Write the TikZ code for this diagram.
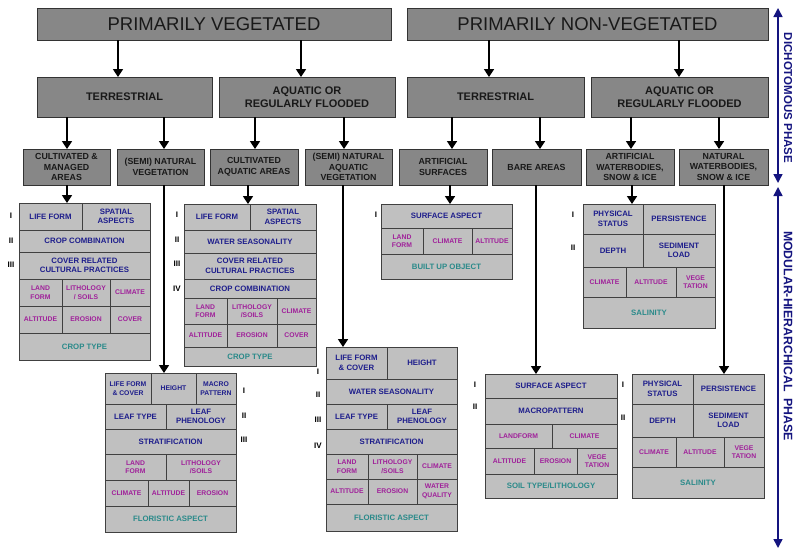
\documentclass[tikz,border=0pt]{standalone}
\usepackage{fontspec}
\setmainfont{Liberation Sans}
\usetikzlibrary{arrows.meta}
\definecolor{topgray}{HTML}{878787}
\definecolor{cellgray}{HTML}{C0C0C0}
\definecolor{tblue}{HTML}{1E1E8C}
\definecolor{tmag}{HTML}{A0209A}
\definecolor{tteal}{HTML}{2A8A8A}
\definecolor{navyc}{HTML}{14147F}
\newcommand\cell[7]{%
  \node[#6, minimum width={(#4-#2)*1pt}, minimum height={(#5-#3)*1pt}] (#1) at ({(#2+#4)/2},{(#3+#5)/2}) {#7};}
\tikzset{
  basebox/.style={draw=black!75, line width=0.6pt, inner sep=0.5pt, outer sep=0pt, align=center},
  topbox/.style={basebox, fill=topgray, draw=black!80, line width=0.9pt, text=black!90, font=\fontsize{18.5}{22}\selectfont},
  midbox/.style={basebox, fill=topgray, draw=black!80, line width=0.9pt, text=black!90, font=\fontsize{11}{13.5}\selectfont\bfseries},
  lowbox/.style={basebox, fill=topgray, draw=black!80, line width=0.9pt, text=black!90, font=\fontsize{8.8}{10.8}\selectfont\bfseries},
  cblue/.style={basebox, fill=cellgray, text=tblue, font=\fontsize{7.8}{9.5}\selectfont\bfseries},
  cblues/.style={basebox, fill=cellgray, text=tblue, font=\fontsize{6.8}{8.5}\selectfont\bfseries},
  cmag/.style={basebox, fill=cellgray, text=tmag, font=\fontsize{6.8}{8.5}\selectfont\bfseries},
  cteal/.style={basebox, fill=cellgray, text=tteal, font=\fontsize{7.8}{9.5}\selectfont\bfseries},
  numlab/.style={font=\fontsize{8}{9}\selectfont\bfseries, text=black, inner sep=0pt},
  arr/.style={line width=1.7pt, black, -{Triangle[length=8pt,width=10pt]}},
  phasearr/.style={line width=1.5pt, navyc, {Triangle[length=9pt,width=9pt]}-{Triangle[length=9pt,width=9pt]}},
  phasetxt/.style={rotate=-90, text=navyc, inner sep=0pt}
}
\begin{document}
\begin{tikzpicture}[x=1pt,y=-1pt]
\useasboundingbox[fill=white] (0,0) rectangle (800,557);
% top level
\cell{pv}{37}{8}{391}{40}{topbox}{PRIMARILY VEGETATED}
\cell{pnv}{407}{8}{768}{40}{topbox}{PRIMARILY NON-VEGETATED}
% second level
\cell{vt}{37}{77}{212}{117}{midbox}{TERRESTRIAL}
\cell{va}{219}{77}{395}{117}{midbox}{AQUATIC OR\\REGULARLY FLOODED}
\cell{nt}{407}{77}{584}{117}{midbox}{TERRESTRIAL}
\cell{na}{591}{77}{768}{117}{midbox}{AQUATIC OR\\REGULARLY FLOODED}
% third level
\cell{cmn}{23}{149}{110}{185}{lowbox}{CULTIVATED \&\\MANAGED\\AREAS}
\cell{snv}{117}{149}{204}{185}{lowbox}{(SEMI) NATURAL\\VEGETATION}
\cell{caa}{210}{149}{298}{185}{lowbox}{CULTIVATED\\AQUATIC AREAS}
\cell{sna}{305}{149}{392}{185}{lowbox}{(SEMI) NATURAL\\AQUATIC\\VEGETATION}
\cell{asf}{399}{149}{487}{185}{lowbox}{ARTIFICIAL\\SURFACES}
\cell{bar}{492}{149}{581}{185}{lowbox}{BARE AREAS}
\cell{awb}{586}{149}{674}{185}{lowbox}{ARTIFICIAL\\WATERBODIES,\\SNOW \& ICE}
\cell{nwb}{679}{149}{768}{185}{lowbox}{NATURAL\\WATERBODIES,\\SNOW \& ICE}
% box A
\cell{a1}{19}{203}{82}{230}{cblue}{LIFE FORM}
\cell{a2}{82}{203}{150}{230}{cblue}{SPATIAL\\ASPECTS}
\cell{a3}{19}{230}{150}{252}{cblue}{CROP COMBINATION}
\cell{a4}{19}{252}{150}{279}{cblue}{COVER RELATED\\CULTURAL PRACTICES}
\cell{a5}{19}{279}{62}{306}{cmag}{LAND\\FORM}
\cell{a6}{62}{279}{110}{306}{cmag}{LITHOLOGY\\/ SOILS}
\cell{a7}{110}{279}{150}{306}{cmag}{CLIMATE}
\cell{a8}{19}{306}{62}{333}{cmag}{ALTITUDE}
\cell{a9}{62}{306}{110}{333}{cmag}{EROSION}
\cell{a10}{110}{306}{150}{333}{cmag}{COVER}
\cell{a11}{19}{333}{150}{360}{cteal}{CROP TYPE}
\node[numlab] (an1) at (11,216) {I};
\node[numlab] (an2) at (11,241) {II};
\node[numlab] (an3) at (11,265) {III};
% box B
\cell{b1}{184}{204}{250}{230}{cblue}{LIFE FORM}
\cell{b2}{250}{204}{316}{230}{cblue}{SPATIAL\\ASPECTS}
\cell{b3}{184}{230}{316}{253}{cblue}{WATER SEASONALITY}
\cell{b4}{184}{253}{316}{279}{cblue}{COVER RELATED\\CULTURAL PRACTICES}
\cell{b5}{184}{279}{316}{298}{cblue}{CROP COMBINATION}
\cell{b6}{184}{298}{227}{324}{cmag}{LAND\\FORM}
\cell{b7}{227}{298}{277}{324}{cmag}{LITHOLOGY\\/SOILS}
\cell{b8}{277}{298}{316}{324}{cmag}{CLIMATE}
\cell{b9}{184}{324}{227}{347}{cmag}{ALTITUDE}
\cell{b10}{227}{324}{277}{347}{cmag}{EROSION}
\cell{b11}{277}{324}{316}{347}{cmag}{COVER}
\cell{b12}{184}{347}{316}{366}{cteal}{CROP TYPE}
\node[numlab] (bn1) at (177,215) {I};
\node[numlab] (bn2) at (177,240) {II};
\node[numlab] (bn3) at (177,264) {III};
\node[numlab] (bn4) at (177,289) {IV};
% box C
\cell{c1}{105}{373}{151}{404}{cblues}{LIFE FORM\\\& COVER}
\cell{c2}{151}{373}{196}{404}{cblues}{HEIGHT}
\cell{c3}{196}{373}{236}{404}{cblues}{MACRO\\PATTERN}
\cell{c4}{105}{404}{166}{429}{cblue}{LEAF TYPE}
\cell{c5}{166}{404}{236}{429}{cblue}{LEAF\\PHENOLOGY}
\cell{c6}{105}{429}{236}{454}{cblue}{STRATIFICATION}
\cell{c7}{105}{454}{166}{480}{cmag}{LAND\\FORM}
\cell{c8}{166}{454}{236}{480}{cmag}{LITHOLOGY\\/SOILS}
\cell{c9}{105}{480}{148}{506}{cmag}{CLIMATE}
\cell{c10}{148}{480}{189}{506}{cmag}{ALTITUDE}
\cell{c11}{189}{480}{236}{506}{cmag}{EROSION}
\cell{c12}{105}{506}{236}{532}{cteal}{FLORISTIC ASPECT}
\node[numlab] (cn1) at (244,391) {I};
\node[numlab] (cn2) at (244,416) {II};
\node[numlab] (cn3) at (244,440) {III};
% box D
\cell{d1}{326}{347}{387}{379}{cblue}{LIFE FORM\\\& COVER}
\cell{d2}{387}{347}{457}{379}{cblue}{HEIGHT}
\cell{d3}{326}{379}{457}{404}{cblue}{WATER SEASONALITY}
\cell{d4}{326}{404}{387}{429}{cblue}{LEAF TYPE}
\cell{d5}{387}{404}{457}{429}{cblue}{LEAF\\PHENOLOGY}
\cell{d6}{326}{429}{457}{454}{cblue}{STRATIFICATION}
\cell{d7}{326}{454}{368}{479}{cmag}{LAND\\FORM}
\cell{d8}{368}{454}{417}{479}{cmag}{LITHOLOGY\\/SOILS}
\cell{d9}{417}{454}{457}{479}{cmag}{CLIMATE}
\cell{d10}{326}{479}{368}{504}{cmag}{ALTITUDE}
\cell{d11}{368}{479}{417}{504}{cmag}{EROSION}
\cell{d12}{417}{479}{457}{504}{cmag}{WATER\\QUALITY}
\cell{d13}{326}{504}{457}{531}{cteal}{FLORISTIC ASPECT}
\node[numlab] (dn1) at (318,372) {I};
\node[numlab] (dn2) at (318,395) {II};
\node[numlab] (dn3) at (318,420) {III};
\node[numlab] (dn4) at (318,446) {IV};
% box E
\cell{e1}{381}{204}{512}{228}{cblue}{SURFACE ASPECT}
\cell{e2}{381}{228}{423}{254}{cmag}{LAND\\FORM}
\cell{e3}{423}{228}{472}{254}{cmag}{CLIMATE}
\cell{e4}{472}{228}{512}{254}{cmag}{ALTITUDE}
\cell{e5}{381}{254}{512}{279}{cteal}{BUILT UP OBJECT}
\node[numlab] (en1) at (376,215) {I};
% box F
\cell{f1}{583}{204}{643}{234}{cblue}{PHYSICAL\\STATUS}
\cell{f2}{643}{204}{715}{234}{cblue}{PERSISTENCE}
\cell{f3}{583}{234}{643}{267}{cblue}{DEPTH}
\cell{f4}{643}{234}{715}{267}{cblue}{SEDIMENT\\LOAD}
\cell{f5}{583}{267}{626}{297}{cmag}{CLIMATE}
\cell{f6}{626}{267}{676}{297}{cmag}{ALTITUDE}
\cell{f7}{676}{267}{715}{297}{cmag}{VEGE\\TATION}
\cell{f8}{583}{297}{715}{328}{cteal}{SALINITY}
\node[numlab] (fn1) at (573,215) {I};
\node[numlab] (fn2) at (573,248) {II};
% box G
\cell{g1}{485}{374}{617}{398}{cblue}{SURFACE ASPECT}
\cell{g2}{485}{398}{617}{424}{cblue}{MACROPATTERN}
\cell{g3}{485}{424}{552}{448}{cmag}{LANDFORM}
\cell{g4}{552}{424}{617}{448}{cmag}{CLIMATE}
\cell{g5}{485}{448}{534}{474}{cmag}{ALTITUDE}
\cell{g6}{534}{448}{577}{474}{cmag}{EROSION}
\cell{g7}{577}{448}{617}{474}{cmag}{VEGE\\TATION}
\cell{g8}{485}{474}{617}{498}{cteal}{SOIL TYPE/LITHOLOGY}
\node[numlab] (gn1) at (475,385) {I};
\node[numlab] (gn2) at (475,407) {II};
% box H
\cell{h1}{632}{374}{693}{404}{cblue}{PHYSICAL\\STATUS}
\cell{h2}{693}{374}{764}{404}{cblue}{PERSISTENCE}
\cell{h3}{632}{404}{693}{437}{cblue}{DEPTH}
\cell{h4}{693}{404}{764}{437}{cblue}{SEDIMENT\\LOAD}
\cell{h5}{632}{437}{676}{467}{cmag}{CLIMATE}
\cell{h6}{676}{437}{724}{467}{cmag}{ALTITUDE}
\cell{h7}{724}{437}{764}{467}{cmag}{VEGE\\TATION}
\cell{h8}{632}{467}{764}{498}{cteal}{SALINITY}
\node[numlab] (hn1) at (623,385) {I};
\node[numlab] (hn2) at (623,418) {II};
% arrow x positions
\coordinate (x1) at (118,0);
\coordinate (x2) at (301,0);
\coordinate (x3) at (489,0);
\coordinate (x4) at (679,0);
\coordinate (y1) at (67,0);
\coordinate (y2) at (164,0);
\coordinate (y3) at (255,0);
\coordinate (y4) at (344,0);
\coordinate (y5) at (452,0);
\coordinate (y6) at (540,0);
\coordinate (y7) at (631,0);
\coordinate (y8) at (719,0);
\coordinate (z1) at (67,0);
\coordinate (z2) at (164,0);
\coordinate (z3) at (248,0);
\coordinate (z4) at (343,0);
\coordinate (z5) at (450,0);
\coordinate (z6) at (536,0);
\coordinate (z7) at (632,0);
\coordinate (z8) at (724,0);
% level 1 -> 2
\draw[arr] (x1 |- pv.south) -- (x1 |- vt.north);
\draw[arr] (x2 |- pv.south) -- (x2 |- va.north);
\draw[arr] (x3 |- pnv.south) -- (x3 |- nt.north);
\draw[arr] (x4 |- pnv.south) -- (x4 |- na.north);
% level 2 -> 3
\draw[arr] (y1 |- vt.south) -- (y1 |- cmn.north);
\draw[arr] (y2 |- vt.south) -- (y2 |- snv.north);
\draw[arr] (y3 |- va.south) -- (y3 |- caa.north);
\draw[arr] (y4 |- va.south) -- (y4 |- sna.north);
\draw[arr] (y5 |- nt.south) -- (y5 |- asf.north);
\draw[arr] (y6 |- nt.south) -- (y6 |- bar.north);
\draw[arr] (y7 |- na.south) -- (y7 |- awb.north);
\draw[arr] (y8 |- na.south) -- (y8 |- nwb.north);
% level 3 -> detail boxes
\draw[arr] (z1 |- cmn.south) -- (z1 |- a1.north);
\draw[arr] (z2 |- snv.south) -- (z2 |- c2.north);
\draw[arr] (z3 |- caa.south) -- (z3 |- b1.north);
\draw[arr] (z4 |- sna.south) -- (z4 |- d1.north);
\draw[arr] (z5 |- asf.south) -- (z5 |- e1.north);
\draw[arr] (z6 |- bar.south) -- (z6 |- g1.north);
\draw[arr] (z7 |- awb.south) -- (z7 |- f1.north);
\draw[arr] (z8 |- nwb.south) -- (z8 |- h2.north);
% phase arrows
\coordinate (dtop) at (778,8);
\coordinate (dbot) at (778,183);
\coordinate (mtop) at (778,187);
\coordinate (mbot) at (778,548);
\draw[phasearr] (dtop) -- (dbot);
\draw[phasearr] (mtop) -- (mbot);
\node[phasetxt, font=\fontsize{11.5}{13}\selectfont\bfseries] (dich) at (788,98) {DICHOTOMOUS PHASE};
\node[phasetxt, font=\fontsize{12.3}{14}\selectfont\bfseries] (modh) at (788,336) {MODULAR-HIERARCHICAL\ \ PHASE};
\end{tikzpicture}
\end{document}
